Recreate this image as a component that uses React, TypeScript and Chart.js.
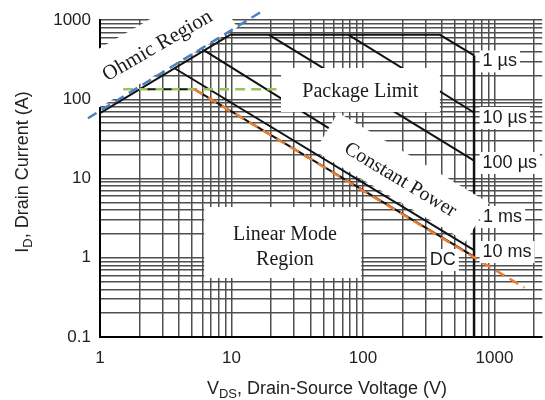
import React, { useEffect, useRef } from 'react';
import { Chart, registerables } from 'chart.js';

Chart.register(...registerables);

// ---- Axis ranges and tick labels ----
const X_MIN = 1;
const X_MAX = 2310;
const Y_MIN = 0.1;
const Y_MAX = 1000;
const xTickLabels = [1, 10, 100, 1000];
const yTickLabels = [0.1, 1, 10, 100, 1000];

// ---- SOA boundary series (V_DS in volts, I_D in amps) ----
const ohmicLimitV = [1, 9.75];
const ohmicLimitI = [66.7, 650];
const pulse1usV = [9.75, 385, 700];
const pulse1usI = [650, 650, 357];
const pulse10usV = [77.6, 700];
const pulse10usI = [650, 68];
const pulse100usV = [19.3, 700];
const pulse100usI = [650, 16.8];
const pulse1msV = [6.2, 700];
const pulse1msI = [414, 3.1];
const pulse10msV = [3.69, 700];
const pulse10msI = [246, 1.25];
const dcV = [5.2, 700];
const dcI = [134, 1.03];
const breakdownV = [700, 700];
const breakdownI = [357, 0.1];
const packageBlackV = [2.0, 5.2];
const packageBlackI = [134, 134];
// ---- Guide lines (dashed, coloured) ----
const ohmicGuideV = [0.81, 17.7];
const ohmicGuideI = [57.5, 1339];
const packageGuideV = [1.5, 22];
const packageGuideI = [134, 134];
const powerGuideV = [5.2, 1690];
const powerGuideI = [134, 0.42];

// grid values 1..9 x 10^k
function logGrid(min: number, max: number): number[] {
  const out: number[] = [];
  for (let k = Math.floor(Math.log10(min)); k <= Math.ceil(Math.log10(max)); k++) {
    for (let m = 1; m <= 9; m++) {
      const v = parseFloat((m * Math.pow(10, k)).toPrecision(6));
      if (v >= min - 1e-12 && v <= max + 1e-9) out.push(v);
    }
  }
  return out;
}
const xGrid = logGrid(X_MIN, X_MAX);
const yGrid = logGrid(Y_MIN, Y_MAX);

const zip = (xs: number[], ys: number[]) => xs.map((x, i) => ({ x, y: ys[i] }));
const isLabel = (v: number, list: number[]) => list.some((t) => Math.abs(v - t) / t < 1e-9);

const SERIF = '"Liberation Serif", "Times New Roman", serif';
const SANS = '"Liberation Sans", Arial, sans-serif';
const INK = '#1a1a1a';

// annotation layout (anchors in data coordinates)
const ohmicNote = { text: 'Ohmic Region', v: 2.74, i: 470, angle: -30, box: [-150, -27, 78, 24] };
const powerNote = { text: 'Constant Power', v: 192, i: 9.57, angle: 31, box: [-88, -26, 88, 19] };
const packageNote = { text: 'Package Limit', v: 95.6, i: 123, box: [23.8, 248, 385, 69] };
const linearNote = { lines: ['Linear Mode', 'Region'], v: 25.5, i: [1.94, 0.937], box: [6.2, 4.37, 97, 0.555] };
const smallNotes = [
  { text: '1 µs', v: 813, i: 300, align: 'left' },
  { text: '10 µs', v: 813, i: 58, align: 'left' },
  { text: '100 µs', v: 813, i: 15.7, align: 'left' },
  { text: '1 ms', v: 820, i: 3.27, align: 'left' },
  { text: '10 ms', v: 813, i: 1.18, align: 'left' },
  { text: 'DC', v: 405, i: 0.937, align: 'center' },
];

function drawParts(ctx: CanvasRenderingContext2D, parts: { t: string; sub?: boolean }[], size: number, cx: number, cy: number) {
  const subSize = Math.round(size * 0.72);
  let total = 0;
  const widths = parts.map((p) => {
    ctx.font = `${p.sub ? subSize : size}px ${SANS}`;
    const w = ctx.measureText(p.t).width;
    total += w;
    return w;
  });
  let x = cx - total / 2;
  ctx.textAlign = 'left';
  ctx.textBaseline = 'middle';
  parts.forEach((p, idx) => {
    ctx.font = `${p.sub ? subSize : size}px ${SANS}`;
    ctx.fillText(p.t, x, p.sub ? cy + size * 0.3 : cy);
    x += widths[idx];
  });
}

const notesPlugin = {
  id: 'soaNotes',
  beforeDatasetsDraw(chart: any) {
    const { ctx, chartArea } = chart;
    const xs = chart.scales.x;
    const ys = chart.scales.y;
    ctx.save();
    ctx.beginPath();
    ctx.rect(chartArea.left - 2, chartArea.top - 10, chartArea.right - chartArea.left + 2, chartArea.bottom - chartArea.top + 10);
    ctx.clip();
    const px = xs.getPixelForValue(ohmicNote.v);
    const py = ys.getPixelForValue(ohmicNote.i);
    ctx.translate(px, py);
    ctx.rotate((ohmicNote.angle * Math.PI) / 180);
    const [bx1, by1, bx2, by2] = ohmicNote.box;
    ctx.fillStyle = '#fff';
    ctx.fillRect(bx1, by1, bx2 - bx1, by2 - by1);
    ctx.restore();
  },
  afterDatasetsDraw(chart: any) {
    const { ctx } = chart;
    const xs = chart.scales.x;
    const ys = chart.scales.y;
    const X = (v: number) => xs.getPixelForValue(v);
    const Y = (v: number) => ys.getPixelForValue(v);

    // Ohmic text
    ctx.save();
    ctx.translate(X(ohmicNote.v), Y(ohmicNote.i));
    ctx.rotate((ohmicNote.angle * Math.PI) / 180);
    ctx.fillStyle = INK;
    ctx.font = `21px ${SERIF}`;
    ctx.textAlign = 'center';
    ctx.textBaseline = 'middle';
    ctx.fillText(ohmicNote.text, 0, 0);
    ctx.restore();

    // Package limit
    ctx.save();
    {
      const [a, b, c, d] = packageNote.box;
      ctx.fillStyle = '#fff';
      ctx.fillRect(X(a), Y(b), X(c) - X(a), Y(d) - Y(b));
      ctx.fillStyle = INK;
      ctx.font = `20px ${SERIF}`;
      ctx.textAlign = 'center';
      ctx.textBaseline = 'middle';
      ctx.fillText(packageNote.text, X(packageNote.v), Y(packageNote.i));
    }
    ctx.restore();

    // Linear mode
    ctx.save();
    {
      const [a, b, c, d] = linearNote.box;
      ctx.fillStyle = '#fff';
      ctx.fillRect(X(a), Y(b), X(c) - X(a), Y(d) - Y(b));
      ctx.fillStyle = INK;
      ctx.font = `20px ${SERIF}`;
      ctx.textAlign = 'center';
      ctx.textBaseline = 'middle';
      linearNote.lines.forEach((t, k) => ctx.fillText(t, X(linearNote.v), Y(linearNote.i[k])));
    }
    ctx.restore();

    // Constant power
    ctx.save();
    ctx.translate(X(powerNote.v), Y(powerNote.i));
    ctx.rotate((powerNote.angle * Math.PI) / 180);
    {
      const [bx1, by1, bx2, by2] = powerNote.box;
      ctx.fillStyle = '#fff';
      ctx.fillRect(bx1, by1, bx2 - bx1, by2 - by1);
    }
    ctx.fillStyle = INK;
    ctx.font = `20px ${SERIF}`;
    ctx.textAlign = 'center';
    ctx.textBaseline = 'middle';
    ctx.fillText(powerNote.text, 0, 0);
    ctx.restore();

    // small pulse labels
    ctx.save();
    ctx.font = `18px ${SANS}`;
    ctx.textBaseline = 'middle';
    smallNotes.forEach((n) => {
      const w = ctx.measureText(n.text).width;
      const x = X(n.v);
      const y = Y(n.i);
      const left = n.align === 'left' ? x : x - w / 2;
      ctx.fillStyle = '#fff';
      ctx.fillRect(left - 3, y - 11, w + 6, 22);
      ctx.fillStyle = INK;
      ctx.textAlign = 'left';
      ctx.fillText(n.text, left, y);
    });
    ctx.restore();
  },
  afterDraw(chart: any) {
    const { ctx } = chart;
    ctx.save();
    ctx.fillStyle = '#222';
    drawParts(ctx, [{ t: 'V' }, { t: 'DS', sub: true }, { t: ', Drain-Source Voltage (V)' }], 18, 327, 389);
    ctx.translate(23, 172);
    ctx.rotate(-Math.PI / 2);
    drawParts(ctx, [{ t: 'I' }, { t: 'D', sub: true }, { t: ', Drain Current (A)' }], 18, 0, 0);
    ctx.restore();
  },
};

export default function App() {
  const ref = useRef<HTMLCanvasElement | null>(null);

  useEffect(() => {
    document.body.style.margin = '0';
    if (!ref.current) return;
    const line = (data: any, color: string, width: number, dash: number[] = [], extra: any = {}) => ({
      data,
      borderColor: color,
      backgroundColor: color,
      borderWidth: width,
      borderDash: dash,
      showLine: true,
      pointRadius: 0,
      tension: 0,
      fill: false,
      ...extra,
    });
    const BLACK = '#111111';
    const chart = new Chart(ref.current, {
      type: 'scatter',
      data: {
        datasets: [
          line(zip(ohmicGuideV, ohmicGuideI), '#4a7fc1', 2.5, [10, 6], { clip: false }),
          line(zip(powerGuideV, powerGuideI), '#ed7d31', 2.5, [10, 6]),
          line(zip(packageBlackV, packageBlackI), BLACK, 2, [8, 8], { borderDashOffset: 8 }),
          line(zip(packageGuideV, packageGuideI), '#9bc45a', 2.5, [10, 6]),
          line(zip(ohmicLimitV, ohmicLimitI), BLACK, 2),
          line(zip(pulse1usV, pulse1usI), BLACK, 2),
          line(zip(pulse10usV, pulse10usI), BLACK, 2),
          line(zip(pulse100usV, pulse100usI), BLACK, 2),
          line(zip(pulse1msV, pulse1msI), BLACK, 2),
          line(zip(pulse10msV, pulse10msI), BLACK, 2),
          line(zip(dcV, dcI), BLACK, 2),
          line(zip(breakdownV, breakdownI), BLACK, 2.5),
        ],
      },
      options: {
        responsive: false,
        animation: false,
        devicePixelRatio: 1,
        layout: { padding: { top: 20, left: 0, right: 0, bottom: 0 } },
        plugins: { legend: { display: false }, tooltip: { enabled: false } },
        events: [],
        scales: {
          x: {
            type: 'logarithmic',
            min: X_MIN,
            max: X_MAX,
            afterBuildTicks: (s: any) => {
              s.ticks = xGrid.map((value) => ({ value }));
            },
            afterFit: (s: any) => {
              s.height = 63;
            },
            grid: { color: '#4f4f4f', lineWidth: 1.5, drawTicks: false },
            border: { display: true, color: '#000', width: 2 },
            ticks: {
              autoSkip: false,
              maxRotation: 0,
              padding: 11,
              color: '#222',
              font: { family: SANS, size: 17 },
              callback: (v: any) => (isLabel(Number(v), xTickLabels) ? String(v) : ''),
            },
          },
          y: {
            type: 'logarithmic',
            min: Y_MIN,
            max: Y_MAX,
            afterBuildTicks: (s: any) => {
              s.ticks = yGrid.map((value) => ({ value }));
            },
            afterFit: (s: any) => {
              s.width = 100;
            },
            grid: { color: '#4f4f4f', lineWidth: 1.5, drawTicks: false },
            border: { display: true, color: '#000', width: 2 },
            ticks: {
              autoSkip: false,
              padding: 9,
              color: '#222',
              font: { family: SANS, size: 17 },
              callback: (v: any) => (isLabel(Number(v), yTickLabels) ? String(v) : ''),
            },
          },
        },
      } as any,
      plugins: [notesPlugin as any],
    });
    return () => chart.destroy();
  }, []);

  return (
    <div style={{ width: 545, height: 400 }}>
      <canvas ref={ref} width={545} height={400} style={{ display: 'block', width: 545, height: 400 }} />
    </div>
  );
}
